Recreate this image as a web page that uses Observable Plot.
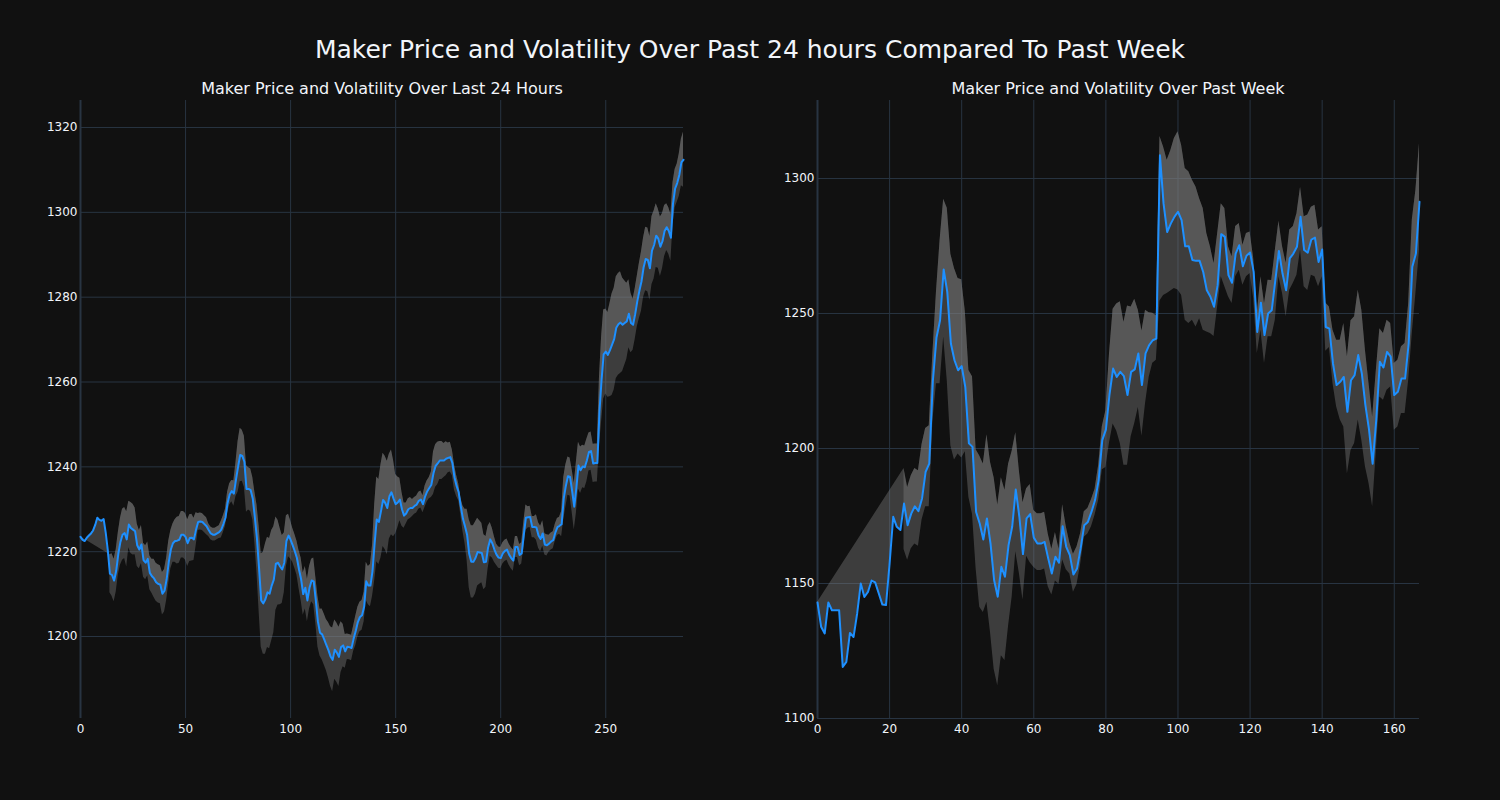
<!DOCTYPE html>
<html>
<head>
<meta charset="utf-8">
<script src="https://cdn.jsdelivr.net/npm/d3@7"></script>
<script src="https://cdn.jsdelivr.net/npm/@observablehq/plot@0.6"></script>
<style>
  html, body { margin: 0; padding: 0; background: #111111; }
  #wrap { position: relative; width: 1500px; height: 800px; background: #111111; overflow: hidden;
          font-family: "DejaVu Sans", sans-serif; color: #f2f5fa; }
  .title { position: absolute; left: 0; width: 1500px; top: 35px; line-height: 30px; font-size: 25px; text-align: center; }
  .sub { position: absolute; top: 79px; line-height: 20px; font-size: 16px; text-align: center; white-space: nowrap; }
  .chart { position: absolute; top: 0; }
</style>
</head>
<body>
<div id="wrap">
  <div class="title">Maker Price and Volatility Over Past 24 hours Compared To Past Week</div>
  <div class="sub" style="left:182px;width:400px;">Maker Price and Volatility Over Last 24 Hours</div>
  <div class="sub" style="left:918px;width:400px;">Maker Price and Volatility Over Past Week</div>
  <div class="chart" id="left" style="left:0px;"></div>
  <div class="chart" id="right" style="left:740px;"></div>
</div>
<script>
// ---------- Last 24 hours (5‑minute steps) ----------
const dayPrice = [
  1223.5,1222.8,1222.5,1223.3,1223.8,1224.3,1225,1226.3,1228,1227.5,
  1227.3,1227.7,1224.5,1220.3,1214.8,1214.5,1213.2,1215.5,1219.5,1222.3,
  1224,1224.4,1222.9,1226.4,1225.6,1225.2,1224.8,1221.5,1220.5,1221.7,
  1218,1217.4,1218.3,1215,1214.2,1213.7,1212.8,1212.4,1212.2,1210.1,
  1210.8,1213.5,1217.5,1220.5,1222,1222.5,1222.6,1222.8,1224,1224,
  1223.5,1222,1223.2,1223.3,1222.9,1225.2,1227,1227.1,1227,1226.5,
  1226,1225.1,1224.3,1224,1224,1224.3,1224.6,1225.2,1226.5,1228,
  1231.5,1233.5,1234.3,1233.7,1237,1240,1242.8,1242.6,1241.2,1234.8,
  1234.8,1234.5,1232.5,1228,1223,1216,1208.5,1207.8,1208.8,1210.4,
  1210.1,1212,1213.4,1217.2,1217.4,1216.5,1215.8,1217.4,1222.5,1223.8,
  1222.8,1221.5,1220.1,1218.5,1215.8,1213.5,1210,1211.5,1208.5,1211.5,
  1213.2,1213,1208.5,1203.5,1200.9,1200.5,1199.3,1198,1196.8,1195.3,
  1194.5,1196.9,1196.2,1195.2,1197.5,1197.9,1196.5,1197.6,1197.5,1197.3,
  1199.5,1201.3,1203.4,1204.6,1205,1207,1213,1212,1212,1215.5,
  1222,1227.6,1227,1229.5,1232.2,1231.5,1230.3,1233,1234,1232.5,
  1231.2,1231.6,1232.3,1230,1228.5,1229,1230,1230.3,1230.3,1230.8,
  1231.1,1232,1232.3,1231.2,1233,1234.2,1235,1235.8,1238.5,1240.2,
  1240.8,1241.5,1241.5,1241.5,1241.9,1242.1,1242.3,1240.9,1237.5,1235.5,
  1234,1230.7,1227.8,1226,1224,1219.5,1217.6,1217.6,1218.5,1219.9,
  1219.8,1219.7,1217.5,1217.6,1221,1222.9,1222,1220.5,1219.3,1218.6,
  1218.5,1219.6,1220.2,1220.5,1219.3,1218.5,1217.9,1221.1,1221.1,1219.2,
  1219.6,1224,1228,1228.1,1228.2,1225.8,1225.8,1225.7,1223.8,1223,
  1224.3,1221.7,1221.5,1221.9,1222.4,1222.7,1224.5,1225.8,1226.1,1226.5,
  1232.5,1235.5,1237.8,1237.6,1234.3,1230.6,1235,1240.3,1239.2,1240.1,
  1239.9,1241.5,1243.5,1243.7,1240.8,1240.9,1240.9,1253,1260.5,1266.5,
  1267.2,1266.4,1267.5,1268.8,1270.1,1272.8,1273.6,1274,1273.5,1273.9,
  1274.3,1276.1,1273.9,1273.5,1276,1279,1281.5,1283.7,1287,1289,
  1288.8,1286.8,1291,1292.3,1294.5,1293.8,1291.9,1293.2,1295.6,1296.5,
  1295.6,1294,1302,1305.6,1306.9,1308.8,1311.8,1312.4
];
const dayVol = [
  0,null,null,null,null,null,null,null,null,null,
  null,null,null,null,4.5,5,5,5,5,5.5,
  6,6,6.5,5.5,6,6,5.5,5,4.5,4.5,
  4,4,4,4,4,4.5,4.5,4.5,4.5,5,
  5,5,5,4.5,4.5,5,5.5,5.5,5.5,5.5,
  5.5,5.5,5.5,5.5,5,4,2,2,2,2,
  2,1.5,1.5,1.5,1.5,1.5,1.5,2,2,2,
  2.5,2.5,2.5,3,4,6,6.3,6,6,5.5,
  5,5,5,6,8,10,11,12,13,13,
  13,13,12.5,11,10,9,8,7,6,5,
  4.5,4,4,4,4.5,5,5,5,5,5,
  5,5.5,5.5,6,5.5,6,6,6,6.5,7,
  7.5,7,7,7,6,5,4,3,3,3,
  3,3.5,3.5,3.5,3.5,3.5,4.5,4.5,5,6,
  9,10,10,11,11,11,11,10,10,9,
  7,6,5,4,3,2.5,2.5,2.5,2,2,
  2,2,2,2,2.5,2.5,2.5,3,5,5,
  5,4.5,4.5,4,4,3.5,3.5,3,3,2.5,
  2,2,3,4,6,8,8.5,8.5,8.5,8,
  7.5,7,6.5,6,5,4,3.5,3,2.5,2.5,
  2.5,2.5,2.5,2.5,2.5,2.5,2.5,2.5,2.5,2.5,
  2.5,3,3,2.5,2.5,2.5,2.5,3,3,3,
  3,2.5,2.5,2,2,2,2,2,2,3,
  5,5,4.5,4.5,5,5.5,6,5.5,5.5,5,
  5,5,4.5,4.5,4.5,4.5,4.5,8,10,10.5,
  10,10,11,12,12,12,12,12,11,10,
  9,8,7,6,6,6,6.5,7,7,7.5,
  7.5,7.5,8,8,7.5,7,7,6.5,6,5.5,
  5.5,5.5,5,4.5,4.5,5,5.5,6.5
];
const dayXTicks = [0, 50, 100, 150, 200, 250];
const dayYTicks = [1200, 1220, 1240, 1260, 1280, 1300, 1320];

// ---------- Past week (hourly steps) ----------
const weekPrice = [
  1143,1134,1131.5,1143,1140.1,1140.1,1140.1,1119.1,1121,1131.7,
  1130.2,1138.9,1150,1145,1146.9,1151.1,1150.4,1146.3,1142.2,1142,
  1157.4,1174.7,1171,1169.8,1179.6,1171.6,1175.9,1178.6,1176.8,1181.5,
  1191.4,1194.4,1225,1241,1247.5,1266.3,1258,1238.9,1232.7,1229,
  1230.5,1222.8,1201.9,1200.6,1176.5,1172.2,1166.3,1174.1,1164.8,1151.2,
  1145.1,1156.2,1152.5,1164.2,1171,1184.8,1174.7,1160.9,1174.1,1175.7,
  1167,1164.8,1164.8,1165.4,1159.3,1153.7,1159.9,1157.7,1171.2,1163.6,
  1160.5,1153.3,1155.6,1163,1171.6,1172.8,1176.5,1180.9,1188.3,1203.1,
  1207,1220,1229.6,1226.5,1228.4,1226.8,1219.8,1228.4,1229.3,1235.2,
  1223.5,1235.2,1238.3,1240.1,1240.7,1308.6,1290.7,1280.2,1283.3,1285.8,
  1287.7,1284.6,1274.9,1274.9,1269.8,1269.5,1269.5,1265.4,1258.6,1256.2,
  1252.5,1260.5,1279.4,1278.4,1264.2,1261.4,1272.2,1275.3,1267.5,1271.4,
  1272.6,1265.4,1243.2,1254,1242,1250,1251.2,1262.3,1273.2,1264.8,
  1258.6,1270.4,1272.2,1274.7,1285.8,1273.5,1272.5,1277.4,1278.1,1269.1,
  1273.7,1245,1244.4,1231.5,1223.5,1224.7,1226.5,1213.6,1225.3,1227.2,
  1234.6,1227.8,1216,1207,1194.4,1210.5,1232.1,1230,1235.8,1234,
  1219.8,1221,1225.9,1225.9,1238.9,1267.3,1272.2,1291.4
];
const weekVolUp = [
  0,null,null,null,null,null,null,null,null,null,
  null,null,null,null,null,null,null,null,null,null,
  null,null,null,null,13,14,14,14,15,20,
  16,14,10,17,29.5,26,31,33,34,34,
  32,28,27,26,23,25,28,31,30,38,
  34,33,32,30,28,21,17,19,11,11,
  10,11,11,11,9,9,9,5,8,7.5,
  4.5,7.5,8,5.5,5,5,4.5,4,5.5,5,
  7,15,22,27,26,20,33,24,26,16,
  20,16,12,10,8.5,7,21,26.6,27,29,
  29.6,27.7,28.8,27.6,29.6,27.4,23,23.5,21,18.5,
  16,19,11.3,10.5,10.5,9.6,10,8,7.8,8.2,
  7.6,5,6.8,9.6,11.7,12.3,11,11,11,10,
  10,10.5,10,12.3,11,12.3,14,12,12,11.8,
  8.4,8.9,8,12.3,16.6,15.4,19.8,20.4,22,21.6,
  24,23.4,20.4,17,17.3,18,12.3,12.6,11.7,12.3,
  11.7,11.7,11.8,13,14.8,17.3,23.5,21.6
];
const weekVolDown = [
  0,null,null,null,null,null,null,null,null,null,
  null,null,null,null,null,null,null,null,null,null,
  null,null,null,null,17,13,13,14,13,8,
  13,16,15,17,23.5,25,33,38,37,31,
  34,24,20,25,21,31,27,31,33,33,
  33,33,31,30,26,23,21,17,14,18,
  11,10,10,10,10.5,8,9,8,12.5,8.5,
  7,6.5,6,6,4.5,4.5,5.5,5.5,7.5,11,
  14,18,20.5,20,26.5,33,26,24,20,20,
  19,18.5,12,8.5,8,54,34,22.8,25,26.5,
  29,27.8,27.4,28.6,22.3,24.5,21.4,21.6,15.4,13.6,
  11,8,15.8,18.5,8,7.7,8.6,9.3,7,7.8,
  7.8,9.8,8,10.2,10.5,8.6,9.8,14.8,9.6,7.4,
  9.8,11.8,11,10.5,12.3,13.6,14,13.2,14.5,9.2,
  10.1,9,7,7.4,8,14,18.5,23,26,25.3,
  24,24.8,22.8,20,16,12,13,12.1,14.2,11.2,
  13,13,12.9,12.9,13.6,24.7,14.8,17.9
];
const weekXTicks = [0, 20, 40, 60, 80, 100, 120, 140, 160];
const weekYTicks = [1100, 1150, 1200, 1250, 1300];

// ---------- helpers ----------
function buildRows(price, up, down) {
  let lastI = 0, lastU = price[0] + (up[0] ?? 0);
  return price.map((p, i) => {
    const defined = up[i] != null;
    if (defined) { lastI = i; lastU = p + up[i]; }
    return {
      i, p,
      hi: defined ? p + up[i] : null,
      lo: defined ? p - down[i] : null,
      ux: lastI, u: lastU
    };
  });
}

const GRID = "#283442";
const LINE = "#1e90ff";
const BAND = "gray";

function chart({rows, xDomain, yDomain, xTicks, yTicks, marginLeft, marginRight}) {
  const bandRows = rows.filter(r => r.hi != null && r.i > 0);
  return Plot.plot({
    width: 700, height: 800,
    marginTop: 100, marginBottom: 82, marginLeft, marginRight,
    style: { background: "transparent", color: "#f2f5fa", fontFamily: "'DejaVu Sans', sans-serif", fontSize: "12px" },
    x: { domain: xDomain, ticks: xTicks, tickSize: 0, tickPadding: 6, label: null, tickFormat: "d" },
    y: { domain: yDomain, ticks: yTicks, tickSize: 0, tickPadding: 3, label: null, tickFormat: "d" },
    marks: [
      Plot.gridX(xTicks, { stroke: GRID, strokeOpacity: 1, strokeWidth: 1 }),
      Plot.gridY(yTicks, { stroke: GRID, strokeOpacity: 1, strokeWidth: 1 }),
      Plot.ruleX([0], { stroke: GRID, strokeWidth: 2 }),
      Plot.areaY(bandRows, { x: "i", y1: "lo", y2: "hi", fill: BAND, fillOpacity: 0.4 }),
      Plot.area(rows, { x1: "i", y1: "p", x2: "ux", y2: "u", fill: BAND, fillOpacity: 0.4 }),
      Plot.line(rows, { x: "i", y: "p", stroke: LINE, strokeWidth: 2 })
    ]
  });
}

document.getElementById("left").append(chart({
  rows: buildRows(dayPrice, dayVol, dayVol),
  xDomain: [0, 287], yDomain: [1180.67, 1326.37],
  xTicks: dayXTicks, yTicks: dayYTicks,
  marginLeft: 80, marginRight: 17
}));
document.getElementById("right").append(chart({
  rows: buildRows(weekPrice, weekVolUp, weekVolDown),
  xDomain: [0, 167], yDomain: [1100, 1328.9],
  xTicks: weekXTicks, yTicks: weekYTicks,
  marginLeft: 77, marginRight: 21
}));
</script>
</body>
</html>
